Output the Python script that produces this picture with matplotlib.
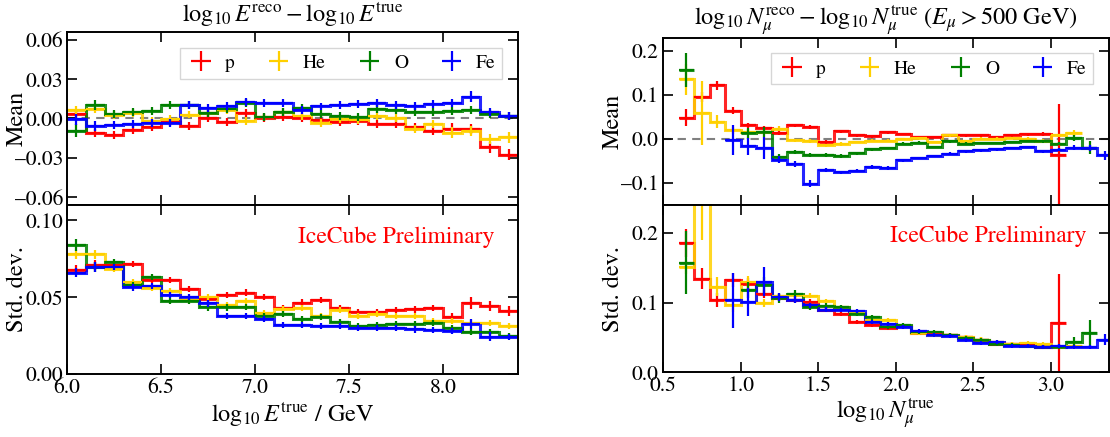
import numpy as np
import matplotlib
matplotlib.use("Agg")
import matplotlib.pyplot as plt

plt.rcParams['font.family'] = ['STIXGeneral', 'DejaVu Serif']
plt.rcParams['mathtext.fontset'] = 'stix'

# ---------------- data ----------------
species = ['p', 'He', 'O', 'Fe']
colors = {'p': '#ff0000', 'He': '#ffd000', 'O': '#008000', 'Fe': '#0000ff'}

# left: energy bins (width 0.1)
E_centers = [6.05, 6.15, 6.25, 6.35, 6.45, 6.55, 6.65, 6.75, 6.85, 6.95, 7.05, 7.15,
             7.25, 7.35, 7.45, 7.55, 7.65, 7.75, 7.85, 7.95, 8.05, 8.15, 8.25, 8.35]
E_half = 0.05

E_mean = {
    'p':  [0.0035, -0.011, -0.0125, -0.0085, -0.0063, -0.003, -0.0057, 0.0005, -0.003, 0.0045, 0.0003, 0.0008,
           0.0005, -0.001, -0.003, -0.002, -0.004, -0.0045, -0.0065, -0.0095, -0.0077, -0.008, -0.022, -0.0275],
    'He': [0.0065, 0.0072, 0.0025, 0.0042, -0.002, -0.0007, 0.003, 0.004, 0.0067, -0.002, 0.001, 0.005,
           0.0022, -0.0032, -0.0002, -0.0012, 0.0017, 0.0005, -0.0082, -0.004, -0.0107, -0.0094, -0.0156, -0.0144],
    'O':  [-0.0094, 0.0104, 0.0035, 0.0047, 0.006, 0.0104, 0.0100, 0.004, 0.0070, 0.0117, 0.001, 0.0047,
           0.008, 0.0037, 0.0022, 0.0012, 0.0074, 0.0067, 0.0047, 0.005, 0.006, 0.0067, 0.0035, 0.0022],
    'Fe': [-0.0007, -0.0057, -0.005, -0.004, -0.0032, -0.0032, 0.0104, 0.008, 0.0097, 0.0124, 0.012, 0.0117,
           0.0067, 0.0092, 0.0104, 0.0112, 0.0117, 0.0104, 0.0097, 0.0112, 0.0117, 0.0166, 0.0047, 0.0017],
}
E_mean_err = {
    'p':  [0.003, 0.003, 0.003, 0.003, 0.003, 0.003, 0.003, 0.003, 0.003, 0.003, 0.003, 0.003,
           0.003, 0.003, 0.003, 0.003, 0.003, 0.003, 0.003, 0.003, 0.004, 0.004, 0.004, 0.004],
    'He': [0.003, 0.003, 0.003, 0.003, 0.003, 0.003, 0.003, 0.003, 0.003, 0.003, 0.003, 0.003,
           0.003, 0.003, 0.003, 0.003, 0.003, 0.003, 0.003, 0.003, 0.004, 0.004, 0.004, 0.004],
    'O':  [0.005, 0.004, 0.003, 0.003, 0.003, 0.003, 0.003, 0.003, 0.003, 0.003, 0.003, 0.003,
           0.003, 0.003, 0.003, 0.003, 0.003, 0.003, 0.003, 0.003, 0.003, 0.003, 0.003, 0.003],
    'Fe': [0.004, 0.004, 0.003, 0.003, 0.003, 0.003, 0.003, 0.003, 0.003, 0.003, 0.003, 0.003,
           0.003, 0.003, 0.003, 0.003, 0.003, 0.003, 0.003, 0.003, 0.003, 0.004, 0.003, 0.003],
}
E_std = {
    'p':  [0.068, 0.071, 0.071, 0.0714, 0.0615, 0.061, 0.0552, 0.0485, 0.0513, 0.053, 0.050, 0.0427,
           0.0465, 0.048, 0.0427, 0.0405, 0.0405, 0.0416, 0.042, 0.0427, 0.0368, 0.046, 0.0442, 0.041],
    'He': [0.078, 0.078, 0.0686, 0.060, 0.056, 0.054, 0.048, 0.0498, 0.0448, 0.0476, 0.0394, 0.042,
           0.0427, 0.038, 0.0416, 0.0377, 0.039, 0.0377, 0.038, 0.0346, 0.0346, 0.033, 0.033, 0.031],
    'O':  [0.084, 0.0697, 0.073, 0.058, 0.063, 0.0476, 0.0476, 0.0433, 0.0433, 0.0437, 0.038, 0.0388,
           0.036, 0.0372, 0.034, 0.031, 0.0318, 0.0325, 0.0325, 0.033, 0.0297, 0.0275, 0.0275, 0.0247],
    'Fe': [0.066, 0.0697, 0.0697, 0.0563, 0.057, 0.0513, 0.050, 0.0459, 0.038, 0.0377, 0.036, 0.032,
           0.032, 0.031, 0.0312, 0.030, 0.030, 0.0297, 0.029, 0.0286, 0.028, 0.0325, 0.0242, 0.0242],
}
E_std_err = {
    'p':  [0.003, 0.003, 0.002, 0.002, 0.002, 0.002, 0.002, 0.002, 0.002, 0.002, 0.002, 0.002,
           0.002, 0.002, 0.002, 0.002, 0.002, 0.002, 0.002, 0.002, 0.003, 0.004, 0.003, 0.003],
    'He': [0.003, 0.003, 0.002, 0.002, 0.002, 0.002, 0.002, 0.002, 0.002, 0.002, 0.002, 0.002,
           0.002, 0.002, 0.002, 0.002, 0.002, 0.002, 0.002, 0.002, 0.002, 0.002, 0.002, 0.002],
    'O':  [0.004, 0.003, 0.002, 0.002, 0.002, 0.002, 0.002, 0.002, 0.002, 0.002, 0.002, 0.002,
           0.002, 0.002, 0.002, 0.002, 0.002, 0.002, 0.002, 0.002, 0.002, 0.002, 0.002, 0.002],
    'Fe': [0.003, 0.003, 0.002, 0.002, 0.002, 0.002, 0.002, 0.002, 0.002, 0.002, 0.002, 0.002,
           0.002, 0.002, 0.002, 0.002, 0.002, 0.002, 0.002, 0.002, 0.002, 0.003, 0.003, 0.002],
}

# right: muon-number bins (width 0.1)
N_centers = [0.65, 0.75, 0.85, 0.95, 1.05, 1.15, 1.25, 1.35, 1.45, 1.55, 1.65, 1.75, 1.85, 1.95,
             2.05, 2.15, 2.25, 2.35, 2.45, 2.55, 2.65, 2.75, 2.85, 2.95, 3.05, 3.15, 3.25, 3.35]
N_half = 0.05
_ = None
N_mean = {
    'p':  [0.0485, 0.095, 0.122, 0.064, 0.031, 0.025, 0.013, 0.031, 0.027, -0.007, 0.0174, 0.008, 0.006, 0.015,
           0.011, 0.0045, 0.0045, 0.008, 0.008, 0.008, 0.0045, 0.008, 0.0106, 0.0106, -0.0356, _, _, _],
    'He': [0.136, 0.059, 0.039, 0.02, 0.016, 0.016, 0.0235, -0.003, -0.0045, -0.0145, -0.012, -0.007, -0.004, -0.004,
           0.0, 0.002, -0.007, 0.008, -0.005, 0.001, 0.001, 0.002, 0.001, -0.0045, 0.008, 0.0136, _, _],
    'O':  [0.157, _, _, _, 0.013, 0.016, -0.041, -0.030, -0.037, -0.036, -0.039, -0.033, -0.0235, -0.0205,
           -0.0106, -0.0083, -0.018, -0.0053, -0.0106, -0.009, -0.009, -0.0068, -0.0045, -0.0053, -0.0106, 0.0023, -0.02, _],
    'Fe': [_, _, _, -0.003, -0.0167, -0.02, -0.047, -0.056, -0.1015, -0.07, -0.076, -0.072, -0.064, -0.066,
           -0.0485, -0.043, -0.0386, -0.0333, -0.028, -0.0258, -0.0235, -0.0205, -0.018, -0.028, -0.024, -0.0197, -0.0205, -0.037],
}
N_mean_err = {
    'p':  [0.019, 0.012, 0.01, 0.008, 0.006, 0.005, 0.005, 0.004, 0.004, 0.004, 0.004, 0.003, 0.003, 0.003,
           0.003, 0.003, 0.003, 0.003, 0.003, 0.003, 0.003, 0.003, 0.004, 0.005, 0.115, _, _, _],
    'He': [0.035, 0.072, 0.015, 0.008, 0.006, 0.005, 0.005, 0.004, 0.004, 0.004, 0.004, 0.003, 0.003, 0.003,
           0.003, 0.003, 0.003, 0.003, 0.003, 0.003, 0.003, 0.003, 0.003, 0.004, 0.004, 0.006, _, _],
    'O':  [0.039, _, _, _, 0.012, 0.012, 0.006, 0.005, 0.004, 0.004, 0.004, 0.003, 0.003, 0.003,
           0.003, 0.003, 0.003, 0.003, 0.003, 0.003, 0.003, 0.003, 0.003, 0.004, 0.004, 0.006, 0.015, _],
    'Fe': [_, _, _, 0.034, 0.02, 0.025, 0.008, 0.007, 0.008, 0.005, 0.004, 0.004, 0.004, 0.004,
           0.003, 0.003, 0.003, 0.003, 0.003, 0.003, 0.003, 0.003, 0.003, 0.004, 0.004, 0.005, 0.006, 0.01],
}
N_std = {
    'p':  [0.185, 0.134, 0.104, 0.133, 0.127, 0.112, 0.107, 0.104, 0.101, 0.089, 0.084, 0.072, 0.0676, 0.063,
           0.066, 0.057, 0.056, 0.053, 0.051, 0.047, 0.040, 0.041, 0.039, 0.0367, 0.07, _, _, _],
    'He': [0.151, 0.27, 0.123, 0.096, 0.13, 0.0995, 0.109, 0.111, 0.11, 0.102, 0.093, 0.085, 0.075, 0.075,
           0.066, 0.056, 0.053, 0.053, 0.051, 0.047, 0.044, 0.041, 0.042, 0.040, 0.0367, 0.0376, _, _],
    'O':  [0.157, _, _, _, 0.118, 0.125, 0.106, 0.113, 0.093, 0.095, 0.093, 0.084, 0.0786, 0.065,
           0.0676, 0.058, 0.058, 0.053, 0.0486, 0.046, 0.041, 0.039, 0.0376, 0.0367, 0.0357, 0.044, 0.056, _],
    'Fe': [_, _, _, 0.103, 0.101, 0.13, 0.108, 0.104, 0.096, 0.090, 0.089, 0.088, 0.072, 0.069,
           0.065, 0.059, 0.053, 0.052, 0.046, 0.042, 0.044, 0.0376, 0.0376, 0.0367, 0.0376, 0.0367, 0.0367, 0.047],
}
N_std_err = {
    'p':  [0.02, 0.015, 0.01, 0.01, 0.008, 0.006, 0.005, 0.004, 0.004, 0.003, 0.003, 0.003, 0.003, 0.003,
           0.003, 0.003, 0.003, 0.003, 0.003, 0.003, 0.003, 0.003, 0.003, 0.003, 0.071, _, _, _],
    'He': [0.01, 0.08, 0.013, 0.01, 0.008, 0.006, 0.005, 0.004, 0.004, 0.003, 0.003, 0.003, 0.003, 0.003,
           0.003, 0.003, 0.003, 0.003, 0.003, 0.003, 0.003, 0.003, 0.003, 0.003, 0.003, 0.004, _, _],
    'O':  [0.045, _, _, _, 0.012, 0.012, 0.006, 0.005, 0.004, 0.004, 0.003, 0.003, 0.003, 0.003,
           0.003, 0.003, 0.003, 0.003, 0.003, 0.003, 0.003, 0.003, 0.003, 0.003, 0.003, 0.006, 0.019, _],
    'Fe': [_, _, _, 0.04, 0.02, 0.021, 0.006, 0.005, 0.004, 0.003, 0.003, 0.003, 0.003, 0.003,
           0.003, 0.003, 0.003, 0.003, 0.003, 0.003, 0.003, 0.003, 0.003, 0.003, 0.003, 0.003, 0.003, 0.008],
}

# ---------------- plotting ----------------
def draw(ax, centers, half, vals, errs, color, label=None):
    runs, cur = [], []
    for c, v, e in zip(centers, vals, errs):
        if v is None:
            if cur:
                runs.append(cur)
            cur = []
        else:
            cur.append((c, v, e))
    if cur:
        runs.append(cur)
    first = True
    for run in runs:
        cs = [r[0] for r in run]
        vs = [r[1] for r in run]
        es = [r[2] for r in run]
        edges = [c - half for c in cs] + [cs[-1] + half]
        ax.stairs(vs, edges, baseline=None, color=color, lw=2.2, alpha=0.85)
        ax.errorbar(cs, vs, yerr=es, xerr=half, fmt='none', ecolor=color, elinewidth=1.6,
                    capsize=0, label=label if first else None)
        first = False


def style(ax):
    ax.tick_params(direction='in', top=True, right=True, length=7, width=1.2, labelsize=15.5, pad=3)
    for s in ax.spines.values():
        s.set_linewidth(1.4)


fig = plt.figure(figsize=(11.1, 4.37), dpi=100)
axL1 = fig.add_axes([0.0604, 0.5309, 0.4063, 0.3959])
axL2 = fig.add_axes([0.0604, 0.1442, 0.4063, 0.3867])
axR1 = fig.add_axes([0.5973, 0.5309, 0.4018, 0.3828])
axR2 = fig.add_axes([0.5973, 0.1481, 0.4018, 0.3828])

for sp in species:
    draw(axL1, E_centers, E_half, E_mean[sp], E_mean_err[sp], colors[sp], sp)
    draw(axL2, E_centers, E_half, E_std[sp], E_std_err[sp], colors[sp])
    draw(axR1, N_centers, N_half, N_mean[sp], N_mean_err[sp], colors[sp], sp)
    draw(axR2, N_centers, N_half, N_std[sp], N_std_err[sp], colors[sp])

for ax in (axL1, axR1):
    ax.axhline(0, color='gray', ls='--', lw=1.5, dashes=(4, 3), zorder=0)

# left
axL1.set_xlim(6.0, 8.4)
axL2.set_xlim(6.0, 8.4)
axL1.set_ylim(-0.066, 0.066)
axL1.set_yticks([-0.06, -0.03, 0.0, 0.03, 0.06])
axL1.set_yticklabels(['\u20130.06', '\u20130.03', '0.00', '0.03', '0.06'])
axL2.set_ylim(0, 0.11)
axL2.set_yticks([0.0, 0.05, 0.10])
axL2.set_yticklabels(['0.00', '0.05', '0.10'])
for ax in (axL1, axL2):
    ax.set_xticks([6.0, 6.5, 7.0, 7.5, 8.0])
axL2.set_xticklabels(['6.0', '6.5', '7.0', '7.5', '8.0'])
axL1.set_xticklabels([])

# right
for ax in (axR1, axR2):
    ax.set_xlim(0.5, 3.375)
    ax.set_xticks([0.5, 1.0, 1.5, 2.0, 2.5, 3.0])
axR2.set_xticklabels(['0.5', '1.0', '1.5', '2.0', '2.5', '3.0'])
axR1.set_xticklabels([])
axR1.set_ylim(-0.15, 0.23)
axR1.set_yticks([-0.1, 0.0, 0.1, 0.2])
axR1.set_yticklabels(['\u20130.1', '0.0', '0.1', '0.2'])
axR2.set_ylim(0, 0.24)
axR2.set_yticks([0.0, 0.1, 0.2])
axR2.set_yticklabels(['0.0', '0.1', '0.2'])

for ax in (axL1, axL2, axR1, axR2):
    style(ax)

lab_fs = 17.5
for ax, t in ((axL1, 'Mean'), (axL2, 'Std. dev.'), (axR1, 'Mean'), (axR2, 'Std. dev.')):
    ax.set_ylabel(t, fontsize=lab_fs)
axL1.yaxis.set_label_coords(-0.087, 0.5)
axL2.yaxis.set_label_coords(-0.087, 0.5)
axR1.yaxis.set_label_coords(-0.088, 0.5)
axR2.yaxis.set_label_coords(-0.088, 0.5)
axL2.set_xlabel(r'$\log_{10}E^{\rm true}$ / GeV', fontsize=lab_fs, labelpad=2)
axR2.set_xlabel(r'$\log_{10}N_{\mu}^{\rm true}$', fontsize=lab_fs, labelpad=0)
axL1.set_title(r'$\log_{10}E^{\rm reco} - \log_{10}E^{\rm true}$', fontsize=lab_fs, pad=7)
axR1.set_title(r'$\log_{10}N_{\mu}^{\rm reco} - \log_{10}N_{\mu}^{\rm true}$ ($E_{\mu} > 500$ GeV)',
               fontsize=lab_fs, pad=5)

for ax in (axL2, axR2):
    ax.text(0.73, 0.81, 'IceCube Preliminary', color='red', fontsize=17,
            transform=ax.transAxes, ha='center', va='center')

for ax in (axL1, axR1):
    leg = ax.legend(loc='upper right', ncol=4, fontsize=14, frameon=True, fancybox=False,
                    edgecolor='#cccccc', handlelength=1.5, columnspacing=1.5,
                    borderaxespad=0.8, handletextpad=0.5, borderpad=0.35)
    leg.get_frame().set_linewidth(1.0)

fig.savefig('out.png', dpi=100)
